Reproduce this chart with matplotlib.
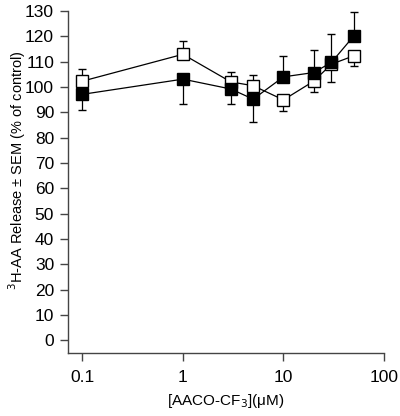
import matplotlib
matplotlib.use("Agg")
import matplotlib.pyplot as plt
import numpy as np

plt.rcParams['font.family'] = ['Liberation Sans', 'DejaVu Sans']

conc = [0.1, 1, 3, 5, 10, 20, 30, 50]
open_mean = [102.3, 112.9, 102.0, 100.5, 94.9, 102.3, 109.0, 112.3]
open_err_up = [4.7, 5.1, 3.9, 4.1, 0, 0, 0, 0]
open_err_down = [0, 0, 0, 0, 4.2, 4.3, 7.0, 4.0]
black_mean = [97.1, 103.1, 99.2, 95.2, 104.0, 105.7, 109.7, 120.1]
black_err_up = [0, 0, 0, 0, 8.1, 9.0, 11.1, 9.6]
black_err_down = [6.2, 9.9, 5.9, 9.1, 0, 0, 0, 0]
yticks = list(range(0, 131, 10))
xticks = [0.1, 1, 10, 100]
xticklabels = ['0.1', '1', '10', '100']

fig = plt.figure(figsize=(4.0, 4.16), dpi=100)
ax = fig.add_axes([0.17, 0.1514, 0.79, 0.8222])

ax.errorbar(conc, open_mean, yerr=[open_err_down, open_err_up], fmt='s', color='black',
            mfc='white', mec='black', ms=8.5, mew=1, lw=0.9, ls='-', capsize=3, capthick=0.9,
            elinewidth=0.9, zorder=2)
ax.errorbar(conc, black_mean, yerr=[black_err_down, black_err_up], fmt='s', color='black',
            mfc='black', mec='black', ms=8.5, mew=1, lw=0.9, ls='-', capsize=3, capthick=0.9,
            elinewidth=0.9, zorder=3)

ax.set_xscale('log')
ax.set_xlim(0.072, 100)
ax.set_ylim(-5, 130)
ax.set_xticks(xticks)
ax.set_xticklabels(xticklabels)
ax.xaxis.set_minor_locator(matplotlib.ticker.NullLocator())
ax.set_yticks(yticks)
for s in ['top', 'right']:
    ax.spines[s].set_visible(False)
for s in ['left', 'bottom']:
    ax.spines[s].set_linewidth(1.0)
    ax.spines[s].set_color('#444444')
ax.tick_params(axis='both', direction='out', length=6, width=1, color='#444444',
               labelsize=12.5, pad=4)
ax.tick_params(axis='x', pad=6)
ax.set_xlabel('[AACO-CF$_3$](\u03bcM)', fontsize=11, labelpad=5)
ax.set_ylabel('$^3$H-AA Release \u00b1 SEM (% of control)', fontsize=10.5)
ax.yaxis.set_label_coords(-0.127, 0.535)

fig.savefig('out.png', dpi=100)
